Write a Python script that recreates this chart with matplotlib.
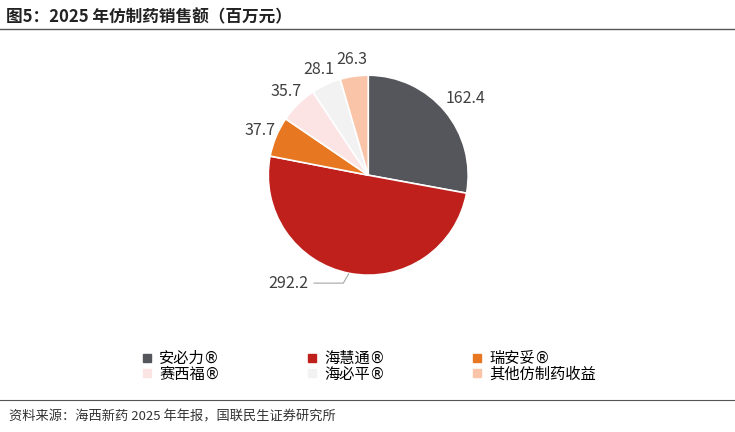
import matplotlib
matplotlib.use("Agg")
import matplotlib.pyplot as plt
import numpy as np
from matplotlib.lines import Line2D

plt.rcParams['font.family'] = ['Noto Sans CJK SC', 'DejaVu Sans']

categories = ["安必力®", "海慧通®", "瑞安妥®", "赛西福®", "海必平®", "其他仿制药收益"]
values = [162.4, 292.2, 37.7, 35.7, 28.1, 26.3]
colors = ["#54565B", "#C0201C", "#E87722", "#FCE4E4", "#F2F2F2", "#F9C4A8"]

fig = plt.figure(figsize=(7.35, 4.32), dpi=100)
ax = fig.add_axes([0.365, 0.363, 0.272, 0.463])
wedges, _ = ax.pie(values, colors=colors, startangle=90, counterclock=False,
                   wedgeprops=dict(edgecolor="white", linewidth=1.2))
ax.set_aspect("equal")
ax.set_xlim(-1, 1)
ax.set_ylim(-1, 1)

for w, v in zip(wedges, values):
    ang = np.deg2rad((w.theta1 + w.theta2) / 2)
    x, y = np.cos(ang), np.sin(ang)
    if v == max(values):
        ax.annotate(f"{v}", xy=(0.98 * x, 0.98 * y), xytext=(-0.6, -1.08),
                    fontsize=11.5, color="#404040", ha="right", va="center",
                    annotation_clip=False,
                    arrowprops=dict(arrowstyle="-", color="#A6A6A6", lw=0.8,
                                    connectionstyle="angle,angleA=0,angleB=60,rad=0"))
    else:
        r = 1.2 if v > 100 else 1.17
        ax.text(r * x + (0.05 if v > 100 else 0), r * y, f"{v}", fontsize=11.5,
                color="#404040", ha="center", va="center", clip_on=False)

handles = [Line2D([0], [0], marker="s", color="none", markerfacecolor=c,
                  markeredgecolor=c, markersize=6) for c in colors]
order = [0, 3, 1, 4, 2, 5]
fig.legend([handles[i] for i in order], [categories[i] for i in order],
           ncol=3, loc="center", bbox_to_anchor=(0.5, 0.152), frameon=False,
           prop=dict(family=['DejaVu Sans', 'Noto Sans CJK SC'], size=11),
           columnspacing=5.5, handletextpad=0.3, labelspacing=0.05,
           handlelength=1.0)

fig.text(0.008, 0.96, "图5：2025 年仿制药销售额（百万元）", fontsize=12,
         fontweight="bold", color="#222222", va="center")
fig.add_artist(Line2D([0.0, 1.0], [0.932, 0.932], color="#555555", lw=1.0))
fig.add_artist(Line2D([0.0, 1.0], [0.074, 0.074], color="#555555", lw=0.8))
fig.text(0.012, 0.035, "资料来源：海西新药 2025 年年报，国联民生证券研究所", fontsize=9.5,
         color="#333333", va="center")

fig.savefig("out.png", dpi=100)
